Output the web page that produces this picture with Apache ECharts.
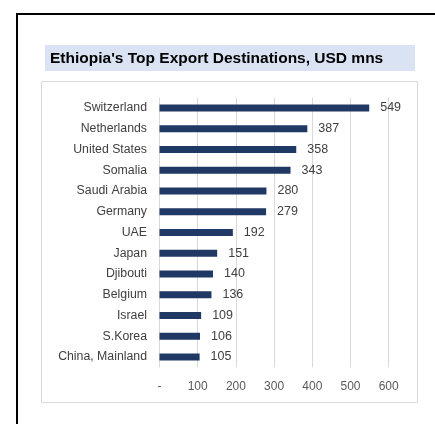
<!DOCTYPE html>
<html>
<head>
<meta charset="utf-8">
<script src="https://cdn.jsdelivr.net/npm/echarts@6/dist/echarts.min.js"></script>
<style>
  html, body { margin: 0; padding: 0; background: #fff; }
  #chart { width: 435px; height: 424px; }
</style>
</head>
<body>
<div id="chart"></div>
<script>
// Export destinations, ranked largest first (USD millions)
const countries = ['Switzerland', 'Netherlands', 'United States', 'Somalia', 'Saudi Arabia', 'Germany', 'UAE', 'Japan', 'Djibouti', 'Belgium', 'Israel', 'S.Korea', 'China, Mainland'];
const exportsUsdMn = [549, 387, 358, 343, 280, 279, 192, 151, 140, 136, 109, 106, 105];
const axisTicks = [0, 100, 200, 300, 400, 500, 600];

const titleText = "Ethiopia's Top Export Destinations, USD mns";
const fontFamily = '"Liberation Sans", Arial, sans-serif';

const chart = echarts.init(document.getElementById('chart'), null, { renderer: 'canvas' });

chart.setOption({
  animation: false,
  backgroundColor: '#ffffff',
  graphic: [
    // outer frame
    { type: 'rect', shape: { x: 17, y: 14, width: 440, height: 440 }, style: { fill: 'none', stroke: '#000', lineWidth: 2 }, z: 0 },
    // title band
    { type: 'rect', shape: { x: 45, y: 45, width: 370, height: 26 }, style: { fill: '#dae3f3' }, z: 1 },
    { type: 'text', x: 50, y: 58.5, style: { text: titleText, font: 'bold 15.5px ' + fontFamily, fill: '#000', textVerticalAlign: 'middle' }, z: 2 },
    // chart area box
    { type: 'rect', shape: { x: 41.5, y: 81.5, width: 376, height: 321 }, style: { fill: 'none', stroke: '#d9d9d9', lineWidth: 1 }, z: 1 }
  ],
  grid: { left: 159.5, right: 46.3, top: 97.6, bottom: 56.6, containLabel: false },
  xAxis: {
    type: 'value',
    min: axisTicks[0],
    max: axisTicks[axisTicks.length - 1],
    interval: axisTicks[1] - axisTicks[0],
    axisLine: { show: false },
    axisTick: { show: false },
    splitLine: { lineStyle: { color: '#d9d9d9', width: 1 } },
    axisLabel: {
      margin: 13,
      color: '#595959',
      fontFamily: fontFamily,
      fontSize: 12,
      formatter: v => (v === 0 ? '-' : String(v))
    }
  },
  yAxis: {
    type: 'category',
    data: countries,
    inverse: true,
    axisLine: { show: false },
    axisTick: { show: false },
    axisLabel: { margin: 12.5, color: '#404040', fontFamily: fontFamily, fontSize: 12.3 }
  },
  series: [{
    type: 'bar',
    data: exportsUsdMn,
    barWidth: 7,
    itemStyle: { color: '#1f3864' },
    label: {
      show: true,
      position: 'right',
      distance: 11,
      color: '#404040',
      fontFamily: fontFamily,
      fontSize: 12.5
    }
  }]
});
</script>
</body>
</html>
